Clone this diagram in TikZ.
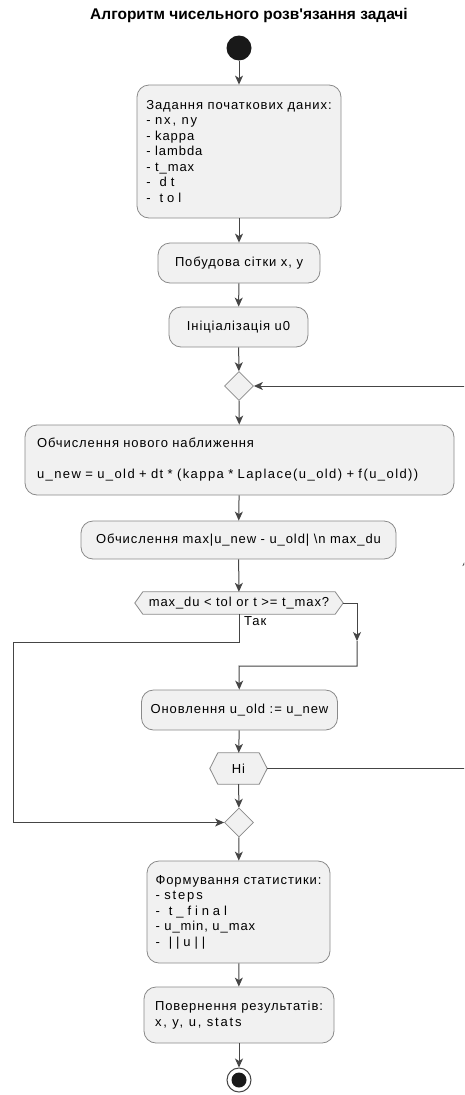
\documentclass[tikz,border=0pt]{standalone}
\usepackage{fontspec}
\setmainfont{Liberation Sans}[LetterSpace=7]
\newfontfamily\titlefont{Liberation Sans}
\newfontfamily\spaced[LetterSpace=14]{Liberation Sans}
\newfontfamily\wide[LetterSpace=30]{Liberation Sans}
\newfontfamily\formula[LetterSpace=11]{Liberation Sans}
\usetikzlibrary{arrows.meta,shapes.geometric,backgrounds}
\definecolor{boxfill}{HTML}{F1F1F1}
\definecolor{boxline}{HTML}{8A8A8A}
\definecolor{flowline}{HTML}{454545}

% six-sided frame drawn round a text node
\newcommand\hexframe[2]{%
  \draw[draw=boxline, fill=boxfill, line width=0.8pt]
    ([xshift=#2]#1.north west) -- ([xshift=-#2]#1.north east) -- (#1.east)
    -- ([xshift=-#2]#1.south east) -- ([xshift=#2]#1.south west) -- (#1.west) -- cycle;}

\begin{document}
\begin{tikzpicture}[x=1pt,y=-1pt,
  txt/.style={font=\fontsize{13}{15.5}\selectfont},
  act/.style={txt, draw=boxline, fill=boxfill, rounded corners=12pt,
    line width=0.8pt, inner sep=0pt},
  hexnode/.style={txt, inner sep=0pt},
  merge/.style={diamond, draw=boxline, fill=boxfill, line width=0.8pt,
    minimum width=29, minimum height=29, inner sep=0pt},
  flow/.style={draw=flowline, line width=1pt,
    -{Stealth[length=9pt,width=8pt,inset=2.5pt]}}]

\useasboundingbox (0,0) rectangle (464,1095);

\node[font=\titlefont\bfseries\fontsize{15.5}{17}\selectfont] (title) at (249,15)
  {Алгоритм чисельного розв{\char"0027}язання задачі};

\node[circle, fill=black!90, minimum size=25, inner sep=0pt] (start) at (239,48) {};

\node[act, minimum width=204, minimum height=133, align=left]
  (b1) at (239,151.5)
  {Задання початкових даних:\\
   - {\spaced nx, ny}\\
   - kappa\\
   - lambda\\
   - t\_max\\
   - \ {\wide dt}\\
   - \ {\wide tol}};

\node[act, minimum width=162, minimum height=40] (b2) at (239,263)
  {Побудова сітки x, y};
\node[act, minimum width=139, minimum height=40] (b3) at (238.5,327)
  {Ініціалізація u0};

\node[merge] (d1) at (239,386) {};

\node[act, minimum width=429, minimum height=70, text width=405, align=left]
  (b4) at (239.5,460)
  {Обчислення нового наближення\\[15.5pt]
   {\formula u\_new = u\_old + dt * (kappa * Laplace(u\_old) + f(u\_old))}};

\node[act, minimum width=315, minimum height=38] (b5) at (238.5,540)
  {Обчислення max|u\_new - u\_old| \textbackslash n max\_du};

\node[hexnode, minimum width=208, minimum height=22] (h1) at (239,603)
  {max\_du < tol or t >= t\_max?};

\node[act, minimum width=196, minimum height=40] (b6) at (239.5,710)
  {Оновлення u\_old := u\_new};

\node[hexnode, minimum width=57, minimum height=31] (h2) at (238.5,768.5) {Ні};

\node[merge] (d2) at (239,822.5) {};

\node[act, minimum width=183, minimum height=102, align=left]
  (b7) at (238.5,912)
  {Формування статистики:\\
   - {\spaced steps}\\
   - \ {\wide t\_final}\\
   - u\_min, u\_max\\
   - \ {\wide ||u||}};

\node[act, minimum width=190, minimum height=56, align=left]
  (b8) at (239,1015)
  {Повернення результатів:\\
   {\spaced x, y, u, stats}};

\node[circle, draw=flowline, line width=1pt, fill=white, minimum size=24,
  inner sep=0pt] (stop) at (239,1080) {};
\node[circle, fill=black!90, minimum size=15, inner sep=0pt] (stopdot) at (stop) {};

\begin{scope}[on background layer]
  \fill[white] (0,0) rectangle (464,1095);
  \hexframe{h1}{8}
  \hexframe{h2}{8}
\end{scope}

% main column
\draw[flow] (start) -- (b1);
\draw[flow] (b1) -- (b2);
\draw[flow] (b2) -- (b3);
\draw[flow] (b3) -- (d1);
\draw[flow] (d1) -- (b4);
\draw[flow] (b4) -- (b5);
\draw[flow] (b5) -- (h1);

% "no" branch of the test
\coordinate (nr1) at (357,603);
\coordinate (nrm) at (357,641);
\coordinate (nr2) at (357,666);
\coordinate (nr3) at (239,666);
\draw[flow] (h1.east) -- (nr1) -- (nrm);
\draw[flow] (nrm) -- (nr2) -- (nr3) -- (b6);

% "yes" branch straight to the merge
\coordinate (yl1) at (239,642);
\coordinate (yl2) at (13,642);
\coordinate (yl3) at (13,822.5);
\draw[flow] (h1.south) -- (yl1) -- (yl2) -- (yl3) -- (d2);
\node[txt, anchor=north west, inner sep=0pt] (yes) at (244,616) {Так};

\draw[flow] (b6) -- (h2);
\draw[flow] (h2) -- (d2);

% loop back to the top merge
\begin{scope}
  \clip (0,0) rectangle (464,1095);
  \coordinate (lp1) at (466.5,768.5);
  \coordinate (lpm) at (466.5,557);
  \coordinate (lp2) at (466.5,386);
  \draw[flow] (h2.east) -- (lp1) -- (lpm);
  \draw[flow] (lpm) -- (lp2) -- (d1);
\end{scope}

\draw[flow] (d2) -- (b7);
\draw[flow] (b7) -- (b8);
\draw[flow] (b8) -- (stop);

\end{tikzpicture}
\end{document}
